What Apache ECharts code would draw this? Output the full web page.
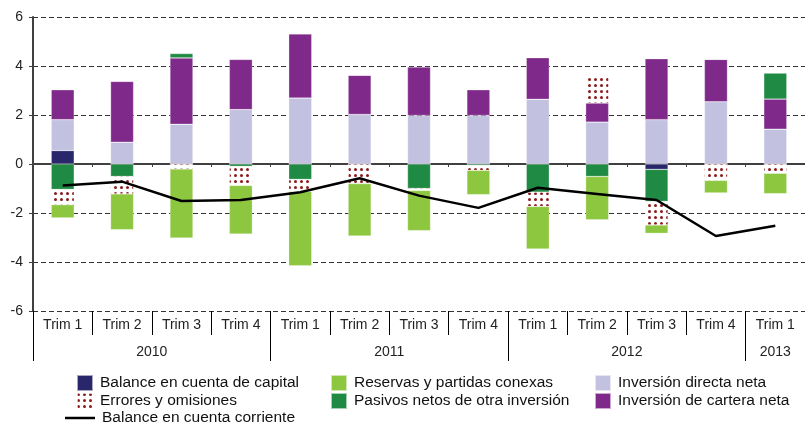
<!DOCTYPE html>
<html>
<head>
<meta charset="utf-8">
<script src="https://cdn.jsdelivr.net/npm/echarts@6/dist/echarts.min.js"></script>
<style>
  html, body { margin: 0; padding: 0; background: #fff; }
  #chart { width: 805px; height: 427px; }
</style>
</head>
<body>
<div id="chart"></div>
<script>
const quarters = ['Trim 1', 'Trim 2', 'Trim 3', 'Trim 4', 'Trim 1', 'Trim 2', 'Trim 3', 'Trim 4',
  'Trim 1', 'Trim 2', 'Trim 3', 'Trim 4', 'Trim 1'];
const years = ['2010', '2011', '2012', '2013'];
const yearBounds = [0, 4, 8, 12];
const yearCenters = [2, 6, 10, 12.5];

const capital = [0.55, 0, 0, 0, 0, 0, 0, 0, 0, 0, -0.22, 0, 0];
const directa = [1.26, 0.89, 1.62, 2.22, 2.69, 2.02, 1.98, 1.98, 2.64, 1.71, 1.81, 2.54, 1.42];
const cartera = [1.22, 2.48, 2.71, 2.05, 2.62, 1.6, 1.98, 1.05, 1.7, 0.78, 2.49, 1.73, 1.23];
const pasivos = [-1.04, -0.51, 0.18, -0.1, -0.63, 0, -1.0, -0.06, -1.15, -0.51, -1.31, 0, 1.06];
const errores = [-0.62, -0.71, -0.2, -0.78, -0.49, -0.8, -0.08, -0.2, -0.58, 1.1, -0.96, -0.67, -0.38];
const reservas = [-0.54, -1.46, -2.82, -1.98, -3.03, -2.14, -1.64, -0.99, -1.74, -1.77, -0.34, -0.51, -0.83];
const corriente = [-0.88, -0.72, -1.51, -1.47, -1.15, -0.58, -1.29, -1.79, -0.97, -1.22, -1.47, -2.94, -2.52];

const FONT = "'Liberation Sans', Arial, sans-serif";
const chart = echarts.init(document.getElementById('chart'));

const barStyle = (color) => ({ color, borderColor: 'rgba(255,255,255,0.6)', borderWidth: 0.5 });

function bar(name, data, itemStyle) {
  return {
    name, type: 'bar', stack: 'total', data,
    barWidth: 23, itemStyle, emphasis: { disabled: true }
  };
}

function legendAt(name, left, top, extra) {
  return Object.assign({
    data: [name], left, top, padding: 0, itemGap: 0,
    itemWidth: 16, itemHeight: 16, icon: 'rect', selectedMode: false,
    textStyle: { fontFamily: FONT, fontSize: 15.5, color: '#111', padding: [0, 0, 0, 2] }
  }, extra || {});
}

const option = {
  animation: false,
  textStyle: { fontFamily: FONT },
  grid: { left: 33, top: 17, width: 776, height: 294 },
  legend: [
    legendAt('Balance en cuenta de capital', 76, 374),
    legendAt('Errores y omisiones', 76, 392),
    legendAt('Balance en cuenta corriente', 65, 410, { itemWidth: 30, itemHeight: 2.5 }),
    legendAt('Reservas y partidas conexas', 330, 374),
    legendAt('Pasivos netos de otra inversión', 330, 392),
    legendAt('Inversión directa neta', 594, 374),
    legendAt('Inversión de cartera neta', 594, 392)
  ],
  xAxis: [
    {
      type: 'category', data: quarters, position: 'bottom',
      axisLine: { show: false, onZero: false },
      axisTick: { show: true, length: 24, lineStyle: { color: '#000' } },
      axisLabel: { interval: 0, margin: 7, fontSize: 14, color: '#222' },
      splitLine: { show: false }
    },
    {
      type: 'category', data: quarters, position: 'bottom',
      axisLine: { show: true, onZero: true, lineStyle: { color: '#404040', width: 2 } },
      axisTick: { show: true, length: 3, lineStyle: { color: '#404040' } },
      axisLabel: { show: false },
      splitLine: { show: false }
    },
    {
      type: 'value', min: 0, max: 13, position: 'bottom',
      axisLine: { show: false, onZero: false },
      axisTick: { show: true, length: 50, customValues: yearBounds, lineStyle: { color: '#000' } },
      axisLabel: {
        customValues: yearCenters, margin: 34, fontSize: 14, color: '#222',
        formatter: (v) => years[yearCenters.indexOf(v)] || ''
      },
      splitLine: { show: false }
    }
  ],
  yAxis: {
    type: 'value', min: -6, max: 6, interval: 2,
    axisLine: { show: true, onZero: false, lineStyle: { color: '#404040', width: 2 } },
    axisTick: { show: true, length: 4, lineStyle: { color: '#404040' } },
    axisLabel: { fontSize: 14, color: '#222', margin: 10 },
    splitLine: { show: true, lineStyle: { color: '#333', width: 1, type: [5, 3] } }
  },
  series: [
    bar('Balance en cuenta de capital', capital, barStyle('#29266b')),
    bar('Inversión directa neta', directa, barStyle('#c2c1e0')),
    bar('Inversión de cartera neta', cartera, barStyle('#7f2a8a')),
    bar('Pasivos netos de otra inversión', pasivos, barStyle('#1f8a44')),
    bar('Errores y omisiones', errores, {
      color: '#ffffff', borderColor: 'rgba(255,255,255,0.6)', borderWidth: 0.5,
      decal: {
        symbol: 'circle', symbolSize: 1, color: '#8b1a1a',
        dashArrayX: [2.4, 3], dashArrayY: [2.4, 3]
      }
    }),
    bar('Reservas y partidas conexas', reservas, barStyle('#8dc63f')),
    {
      name: 'Balance en cuenta corriente', type: 'line', data: corriente,
      symbol: 'none', z: 5,
      lineStyle: { color: '#000', width: 2.5 }, itemStyle: { color: '#000' },
      emphasis: { disabled: true }
    }
  ]
};

chart.setOption(option);
</script>
</body>
</html>
